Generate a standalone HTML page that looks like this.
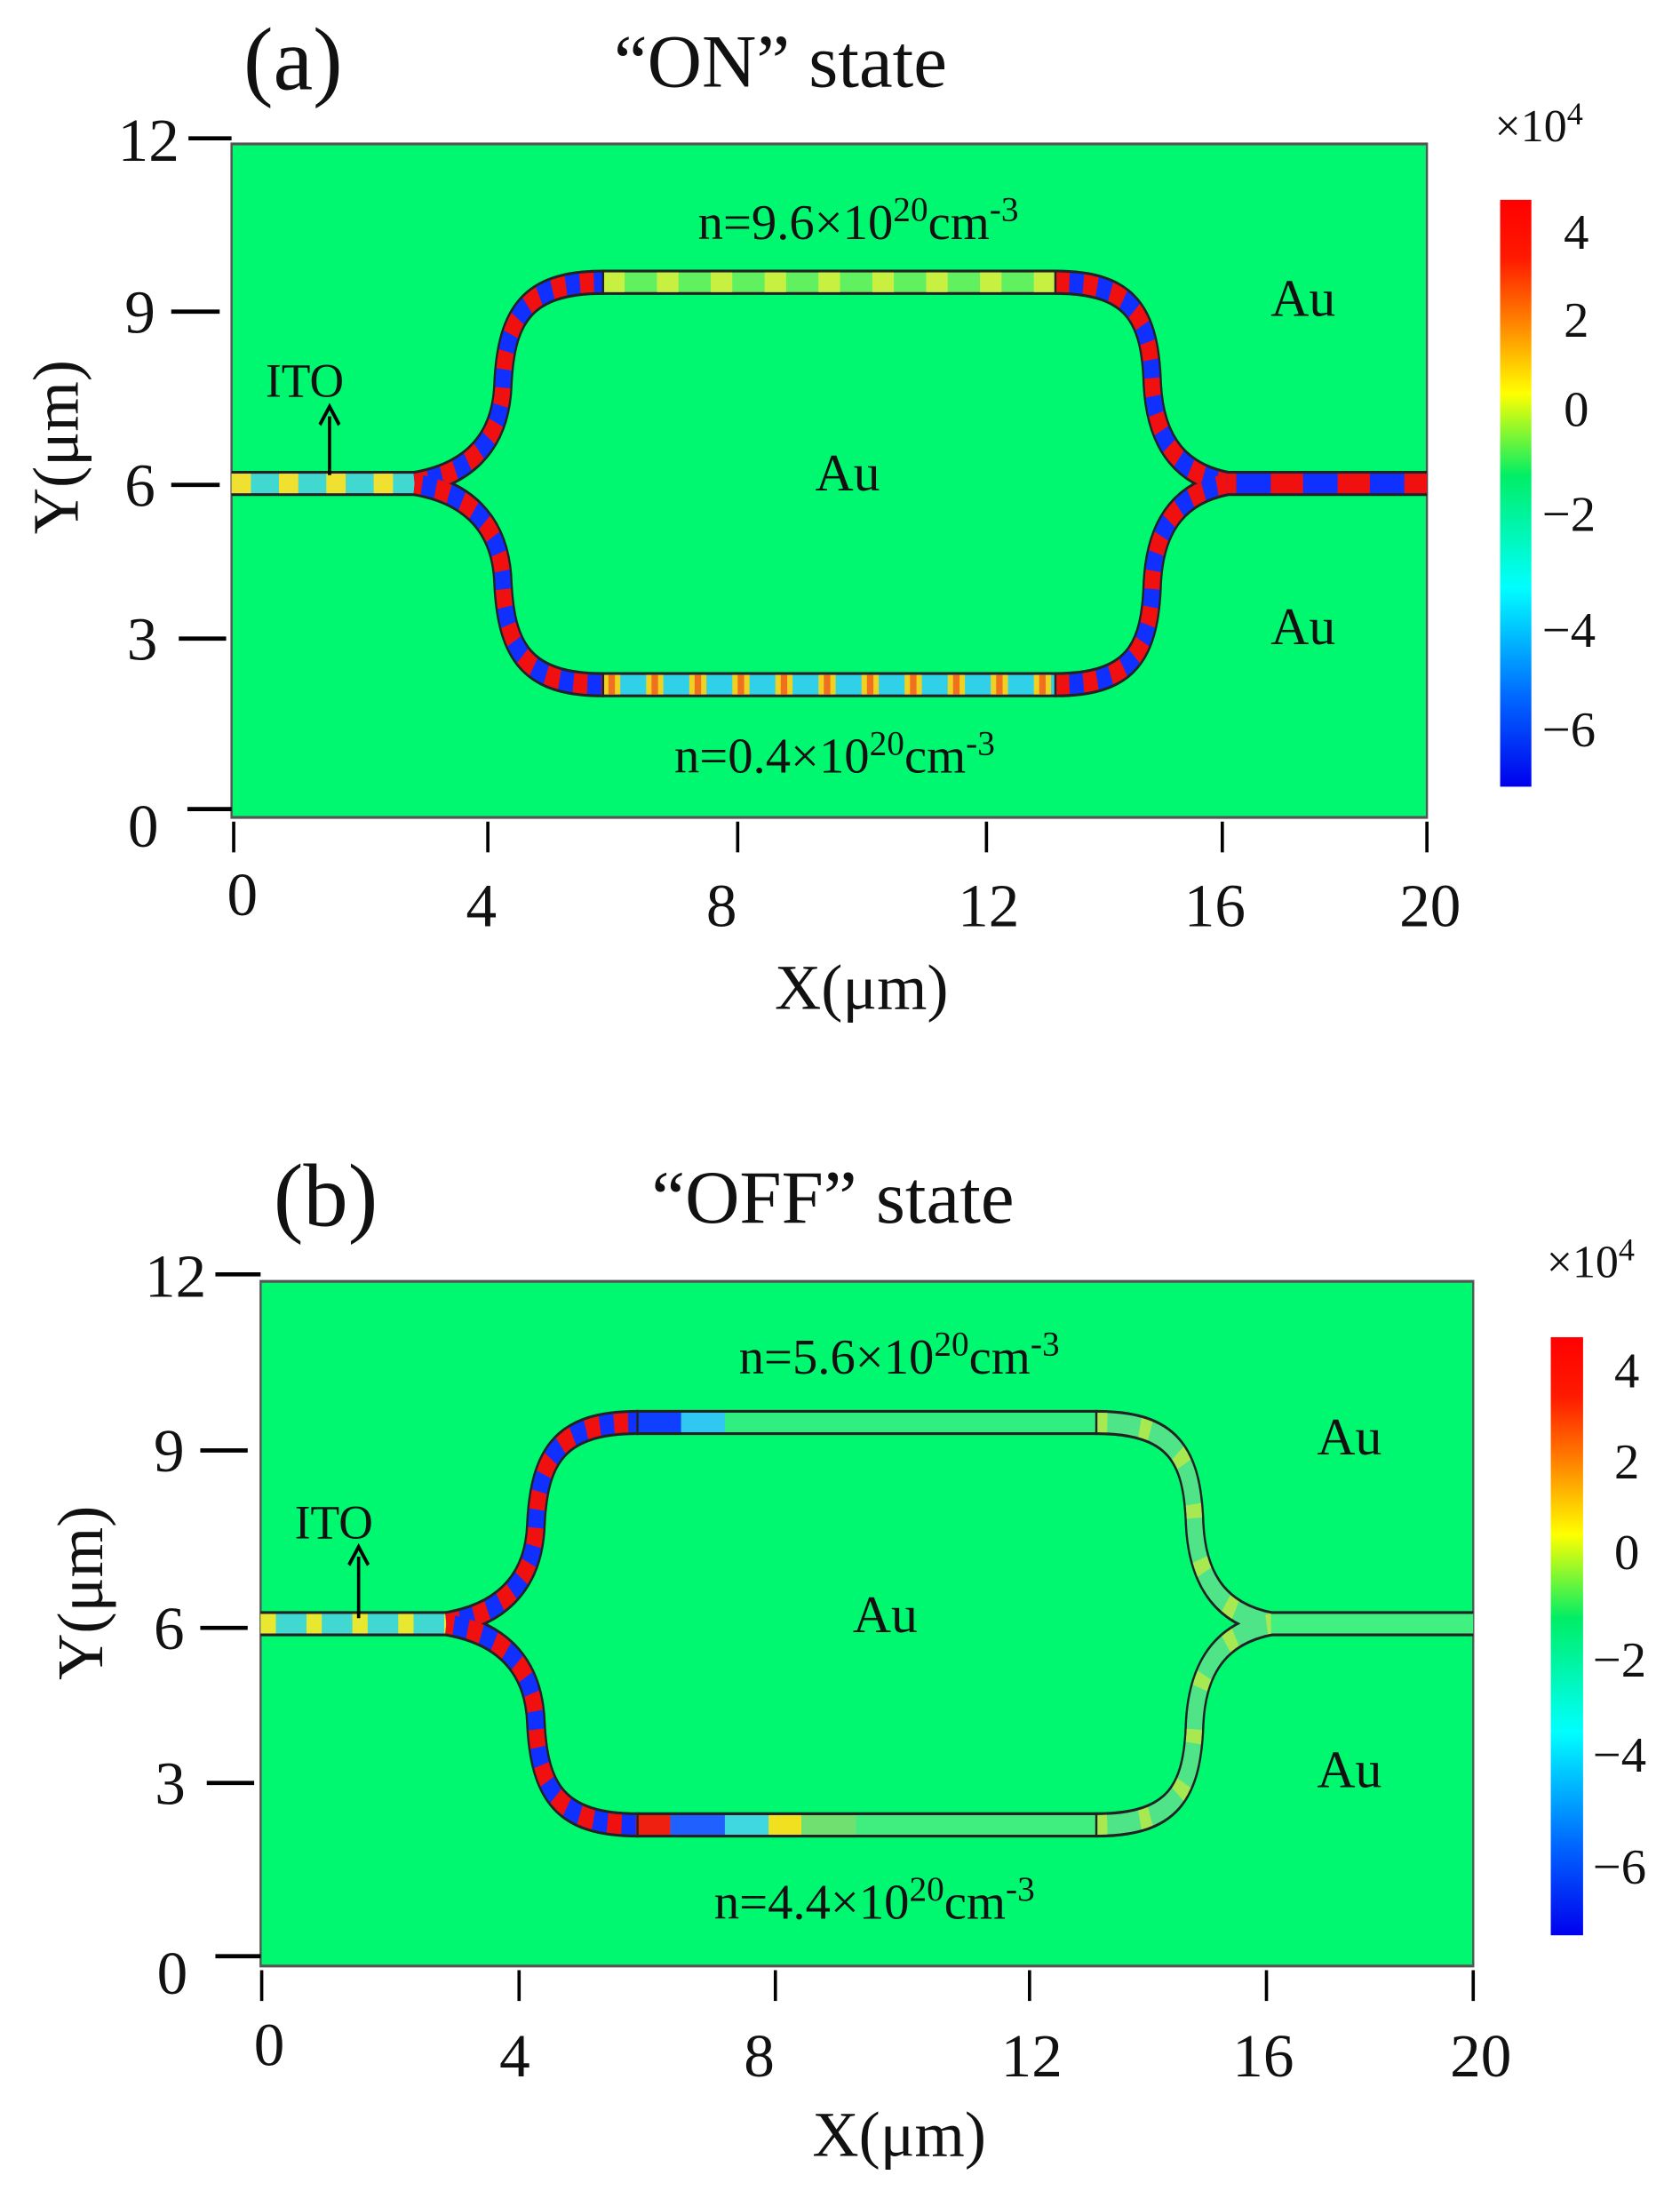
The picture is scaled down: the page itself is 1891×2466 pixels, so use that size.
<!DOCTYPE html>
<html><head><meta charset="utf-8"><style>
html,body{margin:0;padding:0;background:#fff;}
svg{display:block;}
text{font-family:"Liberation Serif","DejaVu Serif",serif;fill:#111;}
</style></head><body>
<svg width="1891" height="2466" viewBox="0 0 1560 1568" preserveAspectRatio="none" xmlns="http://www.w3.org/2000/svg">
<defs>
<linearGradient id="jet" x1="0" y1="0" x2="0" y2="1">
<stop offset="0" stop-color="#ff0000"/>
<stop offset="0.1" stop-color="#ff1a00"/>
<stop offset="0.2" stop-color="#ff7a00"/>
<stop offset="0.33" stop-color="#ffff00"/>
<stop offset="0.47" stop-color="#00ee66"/>
<stop offset="0.66" stop-color="#00ffff"/>
<stop offset="0.85" stop-color="#0066ff"/>
<stop offset="1" stop-color="#0000ee"/>
</linearGradient>
</defs>

<!-- ================= PANEL A ================= -->
<text transform="translate(226,64) scale(1.298,1)" font-size="64">(a)</text>
<text transform="translate(570,62) scale(1.298,1)" font-size="54">“ON” state</text>
<rect x="215" y="103" width="1110" height="482" fill="#00f870" stroke="#555" stroke-width="2"/>
<g fill="none" stroke-linecap="butt">
  <g stroke="#222" stroke-width="18">
    <path d="M215,346 L385,346"/>
    <path d="M385,346 C430,340 465,320 467,275 C470,225 490,202 560,202 L980,202 C1050,202 1068,225 1070,275 C1073,320 1100,340 1140,346"/>
    <path d="M385,346 C430,352 465,372 467,417 C470,467 490,490 560,490 L980,490 C1050,490 1068,467 1070,417 C1073,372 1100,352 1140,346"/>
    <path d="M1140,346 L1325,346"/>
  </g>
  <g stroke-width="14">
    <path d="M215,346 L385,346" stroke="#40d8d0"/>
    <path d="M215,346 L385,346" stroke="#f0e030" stroke-dasharray="18 26"/>
    <path d="M385,346 C430,340 465,320 467,275 C470,225 490,202 560,202" stroke="#1030ff"/>
    <path d="M385,346 C430,340 465,320 467,275 C470,225 490,202 560,202" stroke="#f01010" stroke-dasharray="13 13"/>
    <path d="M560,202 L980,202" stroke="#60f060"/>
    <path d="M560,202 L980,202" stroke="#c8f040" stroke-dasharray="20 30"/>
    <path d="M980,202 C1050,202 1068,225 1070,275 C1073,320 1100,340 1140,346" stroke="#1030ff"/>
    <path d="M980,202 C1050,202 1068,225 1070,275 C1073,320 1100,340 1140,346" stroke="#f01010" stroke-dasharray="13 13"/>
    <path d="M385,346 C430,352 465,372 467,417 C470,467 490,490 560,490" stroke="#1030ff"/>
    <path d="M385,346 C430,352 465,372 467,417 C470,467 490,490 560,490" stroke="#f01010" stroke-dasharray="13 13" stroke-dashoffset="6"/>
    <path d="M560,490 L980,490" stroke="#30d0e8"/>
    <path d="M560,490 L980,490" stroke="#f0d020" stroke-dasharray="16 24"/>
    <path d="M560,490 L980,490" stroke="#f07020" stroke-dasharray="6 34" stroke-dashoffset="-5"/>
    <path d="M980,490 C1050,490 1068,467 1070,417 C1073,372 1100,352 1140,346" stroke="#1030ff"/>
    <path d="M980,490 C1050,490 1068,467 1070,417 C1073,372 1100,352 1140,346" stroke="#f01010" stroke-dasharray="13 13"/>
    <path d="M1140,346 L1325,346" stroke="#1030ff"/>
    <path d="M1140,346 L1325,346" stroke="#f01010" stroke-dasharray="30 32" stroke-dashoffset="-40"/>
  </g>
  <g stroke="#222" stroke-width="2">
    <line x1="560" y1="193" x2="560" y2="211"/><line x1="980" y1="193" x2="980" y2="211"/>
    <line x1="560" y1="481" x2="560" y2="499"/><line x1="980" y1="481" x2="980" y2="499"/>
  </g>
</g>
<text transform="translate(797,171) scale(1.298,1)" font-size="36" text-anchor="middle">n=9.6×10<tspan font-size="25" dy="-13">20</tspan><tspan dy="13">cm</tspan><tspan font-size="25" dy="-13">-3</tspan></text>
<text transform="translate(775,553) scale(1.298,1)" font-size="36" text-anchor="middle">n=0.4×10<tspan font-size="25" dy="-13">20</tspan><tspan dy="13">cm</tspan><tspan font-size="25" dy="-13">-3</tspan></text>
<text transform="translate(787,351) scale(1.298,1)" font-size="38" text-anchor="middle">Au</text>
<text transform="translate(1210,226) scale(1.298,1)" font-size="38" text-anchor="middle">Au</text>
<text transform="translate(1210,461) scale(1.298,1)" font-size="38" text-anchor="middle">Au</text>
<text transform="translate(283,284) scale(1.298,1)" font-size="34" text-anchor="middle">ITO</text>
<line x1="306" y1="340" x2="306" y2="298" stroke="#000" stroke-width="3"/>
<path d="M297,304 L306,291 L315,304" fill="none" stroke="#000" stroke-width="3"/>
<g stroke="#000" stroke-width="3">
  <line x1="175" y1="99" x2="215" y2="99"/><line x1="159" y1="223" x2="204" y2="223"/>
  <line x1="159" y1="347" x2="204" y2="347"/><line x1="166" y1="457" x2="210" y2="457"/>
  <line x1="174" y1="579" x2="215" y2="579"/>
  <line x1="217" y1="588" x2="217" y2="610"/><line x1="453" y1="588" x2="453" y2="610"/>
  <line x1="685" y1="588" x2="685" y2="610"/><line x1="916" y1="588" x2="916" y2="610"/>
  <line x1="1135" y1="588" x2="1135" y2="610"/><line x1="1325" y1="588" x2="1325" y2="610"/>
</g>
<g font-size="44" text-anchor="middle">
  <text transform="translate(138,115) scale(1.298,1)">12</text><text transform="translate(130,238) scale(1.298,1)">9</text><text transform="translate(130,362) scale(1.298,1)">6</text>
  <text transform="translate(132,472) scale(1.298,1)">3</text><text transform="translate(133,606) scale(1.298,1)">0</text>
  <text transform="translate(225,655) scale(1.298,1)">0</text><text transform="translate(447,663) scale(1.298,1)">4</text><text transform="translate(670,663) scale(1.298,1)">8</text>
  <text transform="translate(918,663) scale(1.298,1)">12</text><text transform="translate(1128,663) scale(1.298,1)">16</text><text transform="translate(1328,663) scale(1.298,1)">20</text>
</g>
<text transform="translate(800,722) scale(1.298,1)" font-size="46" text-anchor="middle">X(μm)</text>
<text transform="translate(72,320) rotate(-90) scale(0.77,1)" font-size="60" text-anchor="middle">Y(μm)</text>
<rect x="1393" y="143" width="29" height="420" fill="url(#jet)"/>
<text transform="translate(1388,101) scale(1.298,1)" font-size="33">×10<tspan font-size="23" dy="-12">4</tspan></text>
<g font-size="36">
  <text transform="translate(1452,178) scale(1.298,1)">4</text><text transform="translate(1452,241) scale(1.298,1)">2</text><text transform="translate(1452,305) scale(1.298,1)">0</text>
  <text transform="translate(1432,380) scale(1.298,1)">−2</text><text transform="translate(1432,463) scale(1.298,1)">−4</text><text transform="translate(1432,534) scale(1.298,1)">−6</text>
</g>

<!-- ================= PANEL B ================= -->
<text transform="translate(254,877) scale(1.298,1)" font-size="64">(b)</text>
<text transform="translate(605,875) scale(1.298,1)" font-size="54">“OFF” state</text>
<rect x="242" y="917" width="1126" height="490" fill="#00f870" stroke="#555" stroke-width="2"/>
<g transform="translate(242,816) scale(1.0144,1) translate(-215,0)" fill="none">
  <g stroke="#222" stroke-width="18">
    <path d="M215,346 L385,346"/>
    <path d="M385,346 C430,340 465,320 467,275 C470,225 490,202 560,202 L980,202 C1050,202 1068,225 1070,275 C1073,320 1100,340 1140,346"/>
    <path d="M385,346 C430,352 465,372 467,417 C470,467 490,490 560,490 L980,490 C1050,490 1068,467 1070,417 C1073,372 1100,352 1140,346"/>
    <path d="M1140,346 L1325,346"/>
  </g>
  <g stroke-width="14">
    <path d="M215,346 L385,346" stroke="#40d8d0"/>
    <path d="M215,346 L385,346" stroke="#e8e830" stroke-dasharray="14 28"/>
    <path d="M385,346 C430,340 465,320 467,275 C470,225 490,202 560,202" stroke="#1030ff"/>
    <path d="M385,346 C430,340 465,320 467,275 C470,225 490,202 560,202" stroke="#f01010" stroke-dasharray="13 13"/>
    <path d="M560,202 L980,202" stroke="#30ee80"/>
    <path d="M560,202 L600,202" stroke="#1040ff"/>
    <path d="M600,202 L640,202" stroke="#30c8f0"/>
    <path d="M980,202 C1050,202 1068,225 1070,275 C1073,320 1100,340 1140,346" stroke="#50e488"/>
    <path d="M980,202 C1050,202 1068,225 1070,275 C1073,320 1100,340 1140,346" stroke="#a8e850" stroke-dasharray="10 30"/>
    <path d="M385,346 C430,352 465,372 467,417 C470,467 490,490 560,490" stroke="#1030ff"/>
    <path d="M385,346 C430,352 465,372 467,417 C470,467 490,490 560,490" stroke="#f01010" stroke-dasharray="13 13" stroke-dashoffset="6"/>
    <path d="M560,490 L980,490" stroke="#40ee80"/>
    <path d="M560,490 L590,490" stroke="#f02010"/>
    <path d="M590,490 L640,490" stroke="#2060ff"/>
    <path d="M640,490 L680,490" stroke="#40d8e0"/>
    <path d="M680,490 L710,490" stroke="#f0e020"/>
    <path d="M710,490 L760,490" stroke="#70e070"/>
    <path d="M980,490 C1050,490 1068,467 1070,417 C1073,372 1100,352 1140,346" stroke="#50e488"/>
    <path d="M980,490 C1050,490 1068,467 1070,417 C1073,372 1100,352 1140,346" stroke="#a8e850" stroke-dasharray="10 30"/>
    <path d="M1140,346 L1325,346" stroke="#40f080"/>
  </g>
  <g stroke="#222" stroke-width="2">
    <line x1="560" y1="193" x2="560" y2="211"/><line x1="980" y1="193" x2="980" y2="211"/>
    <line x1="560" y1="481" x2="560" y2="499"/><line x1="980" y1="481" x2="980" y2="499"/>
  </g>
</g>
<text transform="translate(835,983) scale(1.298,1)" font-size="36" text-anchor="middle">n=5.6×10<tspan font-size="25" dy="-13">20</tspan><tspan dy="13">cm</tspan><tspan font-size="25" dy="-13">-3</tspan></text>
<text transform="translate(812,1373) scale(1.298,1)" font-size="36" text-anchor="middle">n=4.4×10<tspan font-size="25" dy="-13">20</tspan><tspan dy="13">cm</tspan><tspan font-size="25" dy="-13">-3</tspan></text>
<text transform="translate(822,1168) scale(1.298,1)" font-size="38" text-anchor="middle">Au</text>
<text transform="translate(1253,1041) scale(1.298,1)" font-size="38" text-anchor="middle">Au</text>
<text transform="translate(1253,1279) scale(1.298,1)" font-size="38" text-anchor="middle">Au</text>
<text transform="translate(310,1101) scale(1.298,1)" font-size="34" text-anchor="middle">ITO</text>
<line x1="333" y1="1158" x2="333" y2="1114" stroke="#000" stroke-width="3"/>
<path d="M324,1120 L333,1107 L342,1120" fill="none" stroke="#000" stroke-width="3"/>
<g stroke="#000" stroke-width="3">
  <line x1="200" y1="912" x2="242" y2="912"/><line x1="186" y1="1038" x2="230" y2="1038"/>
  <line x1="186" y1="1165" x2="230" y2="1165"/><line x1="192" y1="1276" x2="236" y2="1276"/>
  <line x1="200" y1="1400" x2="242" y2="1400"/>
  <line x1="243" y1="1410" x2="243" y2="1432"/><line x1="482" y1="1410" x2="482" y2="1432"/>
  <line x1="720" y1="1410" x2="720" y2="1432"/><line x1="956" y1="1410" x2="956" y2="1432"/>
  <line x1="1176" y1="1410" x2="1176" y2="1432"/><line x1="1368" y1="1410" x2="1368" y2="1432"/>
</g>
<g font-size="44" text-anchor="middle">
  <text transform="translate(163,928) scale(1.298,1)">12</text><text transform="translate(157,1053) scale(1.298,1)">9</text><text transform="translate(157,1180) scale(1.298,1)">6</text>
  <text transform="translate(158,1291) scale(1.298,1)">3</text><text transform="translate(160,1427) scale(1.298,1)">0</text>
  <text transform="translate(250,1478) scale(1.298,1)">0</text><text transform="translate(478,1486) scale(1.298,1)">4</text><text transform="translate(705,1486) scale(1.298,1)">8</text>
  <text transform="translate(958,1486) scale(1.298,1)">12</text><text transform="translate(1173,1486) scale(1.298,1)">16</text><text transform="translate(1375,1486) scale(1.298,1)">20</text>
</g>
<text transform="translate(835,1543) scale(1.298,1)" font-size="46" text-anchor="middle">X(μm)</text>
<text transform="translate(95,1140) rotate(-90) scale(0.77,1)" font-size="60" text-anchor="middle">Y(μm)</text>
<rect x="1440" y="957" width="30" height="428" fill="url(#jet)"/>
<text transform="translate(1436,914) scale(1.298,1)" font-size="33">×10<tspan font-size="23" dy="-12">4</tspan></text>
<g font-size="36">
  <text transform="translate(1499,993) scale(1.298,1)">4</text><text transform="translate(1499,1058) scale(1.298,1)">2</text><text transform="translate(1499,1123) scale(1.298,1)">0</text>
  <text transform="translate(1479,1200) scale(1.298,1)">−2</text><text transform="translate(1479,1268) scale(1.298,1)">−4</text><text transform="translate(1479,1348) scale(1.298,1)">−6</text>
</g>
</svg>
</body></html>
